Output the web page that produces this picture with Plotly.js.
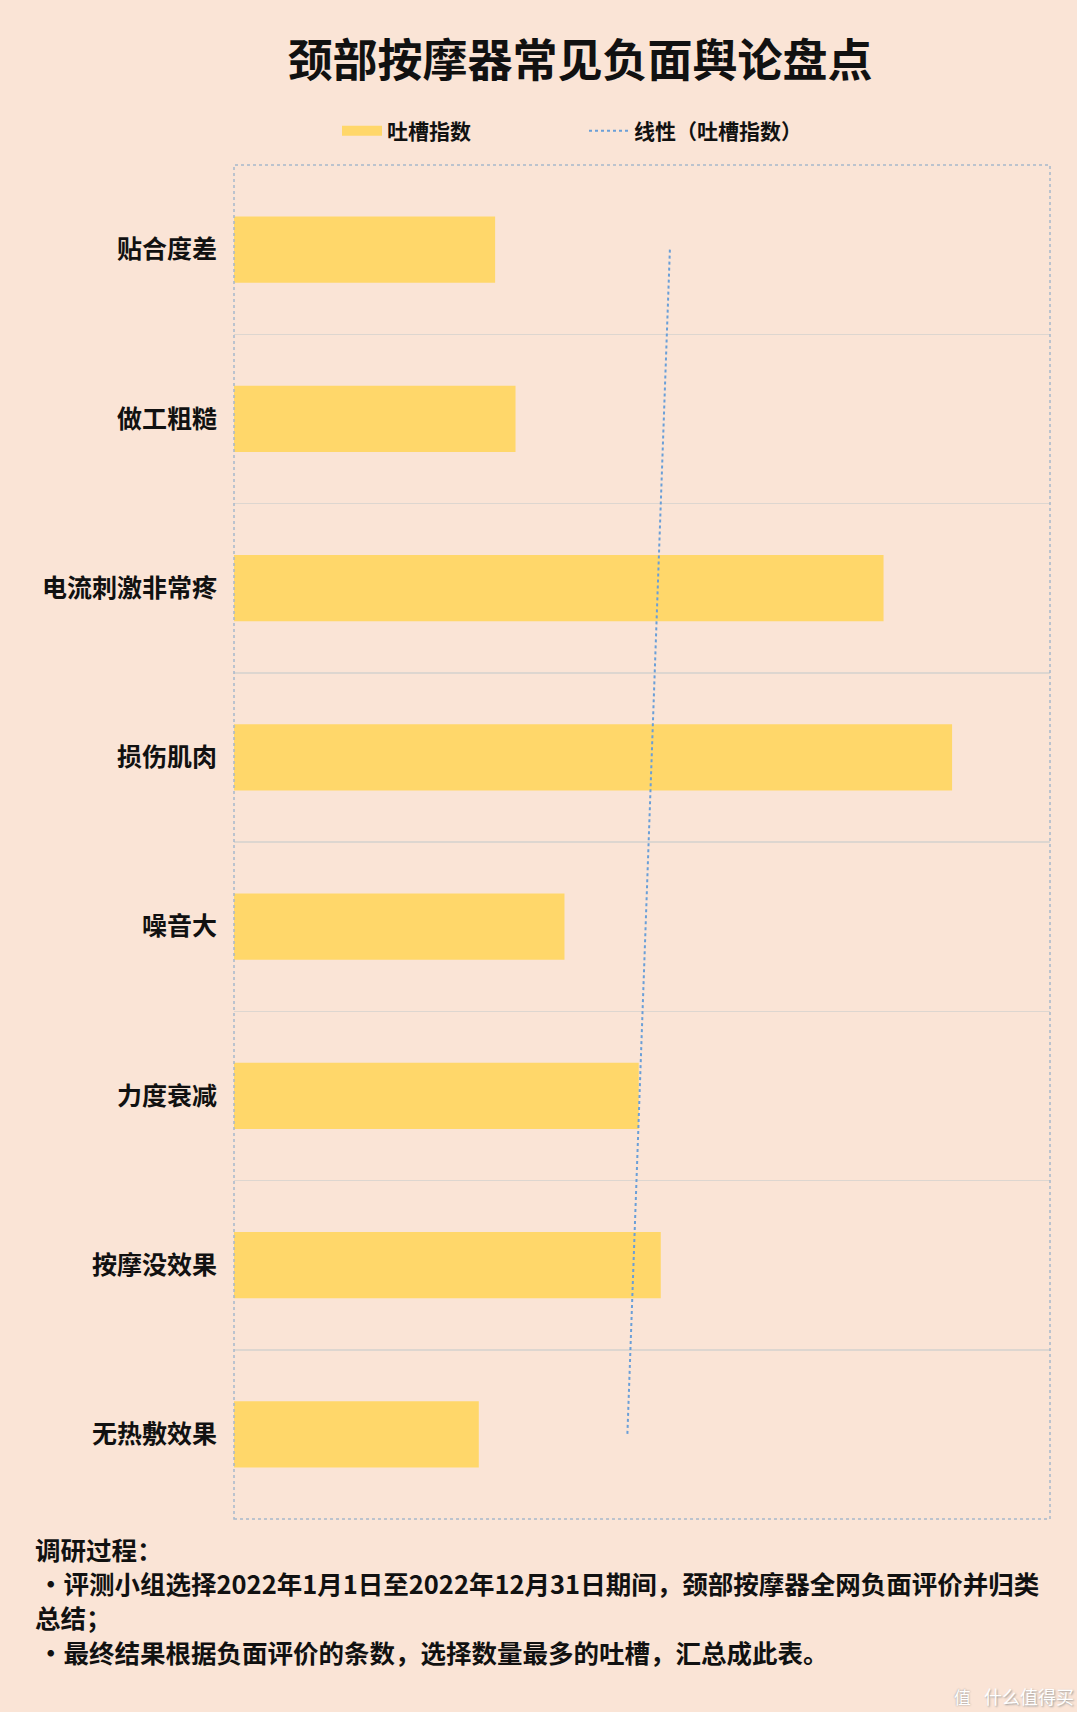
<!DOCTYPE html>
<html>
<head>
<meta charset="utf-8">
<script src="https://cdn.plot.ly/plotly-3.0.1.min.js"></script>
<style>
  html, body { margin: 0; padding: 0; background: #ffffff; }
  #chart { width: 1077px; height: 1712px; }
</style>
</head>
<body>
<div id="chart"></div>
<script>
// ---- data ----
const categories = ["贴合度差", "做工粗糙", "电流刺激非常疼", "损伤肌肉", "噪音大", "力度衰减", "按摩没效果", "无热敷效果"];
const values = [32.0, 34.5, 79.6, 88.0, 40.5, 49.6, 52.3, 30.0];
const seriesName = "吐槽指数";
const trendName = "线性（吐槽指数）";
const titleText = "颈部按摩器常见负面舆论盘点";
const notes = [
  "调研过程：",
  "•评测小组选择2022年1月1日至2022年12月31日期间，颈部按摩器全网负面评价并归类",
  "总结；",
  "•最终结果根据负面评价的条数，选择数量最多的吐槽，汇总成此表。"
];

// linear trendline (least squares of value vs. category index, as Excel does)
const n = values.length;
const idx = values.map((_, i) => i + 1);
const mx = idx.reduce((a, b) => a + b, 0) / n;
const my = values.reduce((a, b) => a + b, 0) / n;
let sxy = 0, sxx = 0;
for (let i = 0; i < n; i++) { sxy += (idx[i] - mx) * (values[i] - my); sxx += (idx[i] - mx) ** 2; }
const slope = sxy / sxx, intercept = my - slope * mx;
const trend = idx.map(i => intercept + slope * i);

// ---- layout geometry (pixels) ----
const W = 1077, H = 1712;
const L = 234, R = 27, T = 165, B = 193;
const PW = W - L - R, PH = H - T - B;
const px = x => (x - L) / PW;
const py = y => (H - B - y) / PH;

const FONT = "Noto Sans CJK SC, Noto Sans, sans-serif";
const BG = "#FAE4D6";
const BAR = "#FFD76A";

const traces = [
  {
    type: "bar",
    orientation: "h",
    name: seriesName,
    y: categories,
    x: values,
    marker: { color: BAR },
    showlegend: false,
    hoverinfo: "x+y"
  },
  // legend swatch for the bar series (wide swatch like the original)
  {
    type: "scatter",
    mode: "lines",
    name: seriesName,
    x: [null], y: [null],
    line: { color: BAR, width: 14 },
    showlegend: true
  },
  {
    type: "scatter",
    mode: "lines",
    name: trendName,
    y: categories,
    x: trend,
    line: { color: "#6A9FD8", width: 2, dash: "dot" },
    hoverinfo: "skip"
  }
];

const annotations = [];
const noteY = [1548, 1582, 1616, 1651];
const noteX = [33, 36, 33, 36];
notes.forEach((t, i) => {
  annotations.push({
    text: t, xref: "paper", yref: "paper",
    x: px(noteX[i]), y: py(noteY[i]), xanchor: "left", yanchor: "middle",
    showarrow: false, align: "left",
    font: { family: FONT, size: 25.5, color: "#111111", weight: 700 }
  });
});
annotations.push({
  text: "值", xref: "paper", yref: "paper", x: px(962), y: py(1696),
  xanchor: "center", yanchor: "middle", showarrow: false,
  font: { family: FONT, size: 17, color: "#ffffff", shadow: "0px 0px 2px #888" }
});
annotations.push({
  text: "什么值得买", xref: "paper", yref: "paper", x: px(982), y: py(1696),
  xanchor: "left", yanchor: "middle", showarrow: false,
  font: { family: FONT, size: 18, color: "#ffffff", shadow: "1px 1px 2px #999" }
});

const layout = {
  width: W, height: H,
  paper_bgcolor: BG, plot_bgcolor: BG,
  margin: { l: L, r: R, t: T, b: B, pad: 0 },
  title: {
    text: titleText,
    xref: "container", yref: "container",
    x: 580 / W, xanchor: "center",
    y: 1 - 61 / H, yanchor: "middle",
    font: { family: FONT, size: 45, color: "#111111", weight: 700 }
  },
  showlegend: true,
  legend: {
    orientation: "h",
    xref: "container", yref: "container",
    x: 337 / W, xanchor: "left",
    y: 1 - 131 / H, yanchor: "middle",
    bgcolor: "rgba(0,0,0,0)",
    itemwidth: 40,
    entrywidth: 192,
    traceorder: "normal",
    font: { family: FONT, size: 21, color: "#111111", weight: 700 }
  },
  bargap: 0.61,
  xaxis: {
    range: [0, 100], showticklabels: false, showgrid: false,
    zeroline: false, showline: false, ticks: "", fixedrange: true
  },
  yaxis: {
    type: "category", autorange: "reversed",
    tickson: "boundaries", showgrid: true, gridcolor: "#DDD6D0", gridwidth: 1.5,
    ticks: "", showline: false, zeroline: false,
    ticklabelstandoff: 16,
    tickfont: { family: FONT, size: 25, color: "#111111", weight: 700 }
  },
  shapes: [
    { type: "rect", xref: "paper", yref: "paper", x0: 0, x1: 1, y0: 0, y1: 1,
      line: { color: "#A6B8CC", width: 1.5, dash: "dot" }, layer: "above" }
  ],
  annotations: annotations
};

Plotly.newPlot("chart", traces, layout, { displayModeBar: false, staticPlot: true });
</script>
</body>
</html>
